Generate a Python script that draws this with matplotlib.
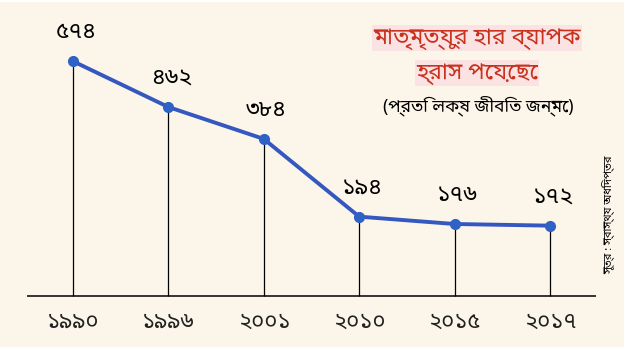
import matplotlib
matplotlib.use("Agg")
import matplotlib.pyplot as plt
from matplotlib.patches import Rectangle

years = ["১৯৯০", "১৯৯৬", "২০০১", "২০১০", "২০১৫", "২০১৭"]
values = [574, 462, 384, 194, 176, 172]
value_labels = ["৫৭৪", "৪৬২", "৩৮৪", "১৯৪", "১৭৬", "১৭২"]
title_lines = ["মাতৃমৃত্যুর হার ব্যাপক", "হ্রাস পেয়েছে"]
subtitle = "(প্রতি লক্ষ জীবিত জন্মে)"
source = "সূত্র : স্বাস্থ্য অধিদপ্তর"

plt.rcParams["font.family"] = ["Noto Sans Bengali", "Noto Sans", "DejaVu Sans"]
plt.rcParams["font.weight"] = "normal"

W, H = 6.24, 3.51
fig = plt.figure(figsize=(W, H), dpi=100)
fig.patch.set_facecolor("white")
fig.add_artist(Rectangle((0, 4 / 351), 1, 345 / 351, transform=fig.transFigure,
                         facecolor="#FCF5E9", edgecolor="none", zorder=0))
ax = fig.add_axes([0, 0, 1, 1])
ax.set_facecolor("none")
ax.set_axis_off()

x = list(range(len(values)))
ax.set_xlim(-0.765, 5.776)
ax.set_ylim(-134.5, 723.7)

ax.hlines(0, -0.48, 5.48, color="black", lw=1.1, zorder=2)
ax.vlines(x, 0, values, color="black", lw=0.9, zorder=2)
ax.plot(x, values, color="#3558C0", lw=2.8, marker="o", ms=7,
        markerfacecolor="#2E62C4", markeredgecolor="#2E62C4", zorder=3)

for xi, v, lab in zip(x, values, value_labels):
    ax.annotate(lab, (xi, v), xytext=(2, 21), textcoords="offset points",
                ha="center", va="center", fontsize=16.5, color="black",
                fontweight="light")

for xi, yr in zip(x, years):
    ax.annotate(yr, (xi, 0), xytext=(0, -19), textcoords="offset points",
                ha="center", va="center", fontsize=16, color="#222222",
                fontweight="light")

for i, line in enumerate(title_lines):
    fig.text(477 / 624, 1 - (38 + 35 * i) / 351, line, ha="center", va="center",
             fontsize=16.5, color="#C8321E", fontweight="normal",
             bbox=dict(facecolor="#FBE3E3", edgecolor="none", pad=0.5))
fig.text(478 / 624, 1 - 106 / 351, subtitle, ha="center", va="center",
         fontsize=12.5, color="black", fontweight="normal")
fig.text(609 / 624, 1 - 215 / 351, source, ha="center", va="center",
         fontsize=8, color="black", rotation=90, fontweight="normal")

fig.savefig("out.png", dpi=100, facecolor=fig.get_facecolor())
